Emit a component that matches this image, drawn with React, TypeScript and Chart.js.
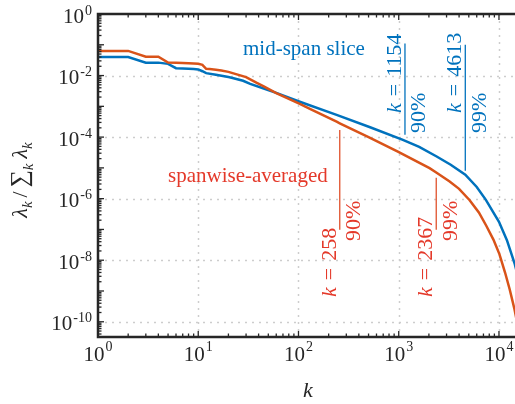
import React, { useEffect, useRef } from "react";
import { Chart, registerables } from "chart.js";

Chart.register(...registerables);

// ---------- data ----------
const kBlue = [1, 2, 3, 4, 5, 6, 7, 8, 9, 10, 11, 12, 15, 20, 22, 28, 33, 45, 60, 103, 240, 518, 1100, 1600, 2390, 3300, 4613, 6000, 7400, 10000, 12000, 14300, 16000];
const blueValues = [3.98e-2, 3.98e-2, 2.63e-2, 2.63e-2, 2.4e-2, 1.74e-2, 1.7e-2, 1.66e-2, 1.62e-2, 1.58e-2, 1.38e-2, 1.2e-2, 1.07e-2, 8.91e-3, 8.32e-3, 6.76e-3, 5.37e-3, 3.8e-3, 2.75e-3, 1.41e-3, 5.25e-4, 2.09e-4, 8.13e-5, 4.79e-5, 2.34e-5, 1.26e-5, 6.03e-6, 2.4e-6, 9.12e-7, 1.78e-7, 4.47e-8, 7.94e-9, 2.0e-9];

const kRed = [1, 2, 3, 4, 5, 6, 7, 8, 9, 10, 11, 12, 13, 15, 17, 20, 22, 30, 38, 45, 60, 103, 130, 240, 258, 500, 980, 2030, 2367, 3220, 4000, 5100, 6300, 7470, 8800, 10100, 11500, 12800, 14300, 16000];
const redValues = [6.31e-2, 6.31e-2, 4.07e-2, 4.07e-2, 2.63e-2, 2.6e-2, 2.57e-2, 2.51e-2, 2.45e-2, 2.4e-2, 2.24e-2, 1.66e-2, 1.62e-2, 1.55e-2, 1.45e-2, 1.32e-2, 1.2e-2, 8.91e-3, 5.89e-3, 4.47e-3, 2.69e-3, 1.2e-3, 8.32e-4, 3.16e-4, 2.82e-4, 1.0e-4, 3.39e-5, 9.77e-6, 7.08e-6, 3.63e-6, 2.09e-6, 8.91e-7, 3.55e-7, 1.32e-7, 4.68e-8, 1.58e-8, 3.98e-9, 1.12e-9, 2.51e-10, 3.98e-11];

const xTicks = [1, 10, 100, 1000, 10000];
const yTicks = [1, 1e-2, 1e-4, 1e-6, 1e-8, 1e-10];

// annotations: mode index k, percentage of energy, which series
const annoK = [1154, 4613, 258, 2367];
const annoPct = ["90%", "99%", "90%", "99%"];
const annoSeries = ["blue", "blue", "red", "red"];
const annoTop = [1.1e-1, 1.0e-1, 1.7e-4, 4.8e-6];
const annoBottom = [1.2e-4, 8.0e-6, 9.8e-8, 9.8e-8];

const seriesLabels = ["mid-span slice", "spanwise-averaged"];

// ---------- style ----------
const BLUE = "#0072BD";
const RED = "#D95319";
const BLUE_TEXT = "#0072BD";
const RED_TEXT = "#E4392A";
const AXIS = "#262626";
const GRID = "#cdcdcd";
const SERIF = '"Liberation Serif", "Times New Roman", Times, serif';
const f = (size: number, italic = false) => `${italic ? "italic " : ""}${size}px ${SERIF}`;

type Seg = { t: string; font: string; dy?: number; gap?: number };

function measureSegs(ctx: CanvasRenderingContext2D, segs: Seg[]) {
  let w = 0;
  for (const s of segs) {
    ctx.font = s.font;
    w += (s.gap || 0) + ctx.measureText(s.t).width;
  }
  return w;
}
function drawSegs(ctx: CanvasRenderingContext2D, segs: Seg[], x: number, y: number) {
  let cx = x;
  for (const s of segs) {
    cx += s.gap || 0;
    ctx.font = s.font;
    ctx.fillText(s.t, cx, y + (s.dy || 0));
    cx += ctx.measureText(s.t).width;
  }
}

const decorPlugin = {
  id: "decor",
  beforeDatasetsDraw(chart: any) {
    const { ctx, chartArea: a } = chart;
    const xs = chart.scales.x, ys = chart.scales.y;
    ctx.save();
    ctx.strokeStyle = GRID;
    ctx.lineWidth = 1.5;
    ctx.setLineDash([2, 5]);
    for (const v of xTicks) {
      const px = Math.round(xs.getPixelForValue(v)) + 0.5;
      if (px < a.left + 2) continue;
      ctx.beginPath();
      ctx.moveTo(px, a.top);
      ctx.lineTo(px, a.bottom);
      ctx.stroke();
    }
    for (const v of yTicks) {
      const py = Math.round(ys.getPixelForValue(v)) + 0.5;
      if (py < a.top + 2) continue;
      ctx.beginPath();
      ctx.moveTo(a.left, py);
      ctx.lineTo(a.right, py);
      ctx.stroke();
    }
    ctx.restore();
  },
  afterDatasetsDraw(chart: any) {
    const { ctx, chartArea: a } = chart;
    const xs = chart.scales.x, ys = chart.scales.y;
    ctx.save();
    ctx.textAlign = "left";
    ctx.textBaseline = "alphabetic";

    // annotation lines + rotated labels
    annoK.forEach((k, i) => {
      const blue = annoSeries[i] === "blue";
      const px = xs.getPixelForValue(k);
      ctx.strokeStyle = blue ? BLUE : "#E0522C";
      ctx.lineWidth = 1.3;
      ctx.beginPath();
      ctx.moveTo(px, ys.getPixelForValue(annoTop[i]));
      ctx.lineTo(px, ys.getPixelForValue(annoBottom[i]));
      ctx.stroke();
      ctx.fillStyle = blue ? BLUE_TEXT : RED_TEXT;
      const numStart = blue ? 113 : 297;
      const denStart = blue ? 133 : 241;
      ctx.save();
      ctx.translate(px - 4.2, numStart);
      ctx.rotate(-Math.PI / 2);
      drawSegs(ctx, [
        { t: "k", font: f(22, true) },
        { t: "=", font: f(22), gap: 7 },
        { t: String(k), font: f(22), gap: 7 },
      ], 0, 0);
      ctx.restore();
      ctx.save();
      ctx.translate(px + 20.3, denStart);
      ctx.rotate(-Math.PI / 2);
      drawSegs(ctx, [{ t: annoPct[i], font: f(22) }], 0, 0);
      ctx.restore();
    });

    // series labels
    ctx.font = f(21);
    ctx.fillStyle = BLUE_TEXT;
    ctx.fillText(seriesLabels[0], 243, 55);
    ctx.fillStyle = RED_TEXT;
    ctx.fillText(seriesLabels[1], 168, 182);

    // axes box
    ctx.strokeStyle = AXIS;
    ctx.lineWidth = 2.5;
    ctx.beginPath();
    ctx.moveTo(a.right + 2, a.top);
    ctx.lineTo(a.left, a.top);
    ctx.lineTo(a.left, a.bottom);
    ctx.lineTo(a.right + 2, a.bottom);
    ctx.stroke();

    // ticks (inward)
    ctx.lineWidth = 1.3;
    const xMin = xs.min, xMax = xs.max, yMin = ys.min, yMax = ys.max;
    for (let d = 0; d <= 5; d++) {
      for (let m = 1; m <= 9; m++) {
        const v = m * Math.pow(10, d);
        if (v < xMin || v > xMax) continue;
        const px = xs.getPixelForValue(v);
        const len = m === 1 ? 6 : 3.5;
        ctx.beginPath();
        ctx.moveTo(px, a.bottom);
        ctx.lineTo(px, a.bottom - len);
        ctx.moveTo(px, a.top);
        ctx.lineTo(px, a.top + len);
        ctx.stroke();
      }
    }
    for (let d = -11; d <= 0; d++) {
      for (let m = 1; m <= 9; m++) {
        const v = m * Math.pow(10, d);
        if (v < yMin || v > yMax) continue;
        const py = ys.getPixelForValue(v);
        const len = m === 1 ? 6 : 3.5;
        ctx.beginPath();
        ctx.moveTo(a.left, py);
        ctx.lineTo(a.left + len, py);
        ctx.stroke();
      }
    }

    // tick labels
    ctx.fillStyle = AXIS;
    for (const v of yTicks) {
      const e = String(Math.round(Math.log10(v)));
      const py = ys.getPixelForValue(v);
      const segs: Seg[] = [
        { t: "10", font: f(21), dy: 8.5 },
        { t: e, font: f(14), dy: 0.5, gap: 1 },
      ];
      const w = measureSegs(ctx, segs);
      drawSegs(ctx, segs, 92 - w, py);
    }
    for (const v of xTicks) {
      const e = String(Math.round(Math.log10(v)));
      const px = xs.getPixelForValue(v);
      const segs: Seg[] = [
        { t: "10", font: f(21), dy: 0 },
        { t: e, font: f(14), dy: -10, gap: 1 },
      ];
      const w = measureSegs(ctx, segs);
      drawSegs(ctx, segs, px - w / 2, 361);
    }

    // axis titles
    ctx.font = f(22, true);
    const kw = ctx.measureText("k").width;
    ctx.fillText("k", 308 - kw / 2, 397);

    const ySegs: Seg[] = [
      { t: "λ", font: f(22, true) },
      { t: "k", font: f(15, true), dy: 5 },
      { t: "/", font: f(22), gap: 4 },
      { t: "∑", font: f(24), gap: 4 },
      { t: "k", font: f(15, true), dy: 6 },
      { t: "λ", font: f(22, true), gap: 5 },
      { t: "k", font: f(15, true), dy: 5 },
    ];
    const yw = measureSegs(ctx, ySegs);
    ctx.save();
    ctx.translate(27, 180);
    ctx.rotate(-Math.PI / 2);
    drawSegs(ctx, ySegs, -yw / 2, 0);
    ctx.restore();

    ctx.restore();
  },
};

export default function App() {
  const ref = useRef<HTMLCanvasElement | null>(null);
  useEffect(() => {
    if (!ref.current) return;
    const chart = new Chart(ref.current, {
      type: "line",
      data: {
        datasets: [
          {
            label: seriesLabels[1],
            data: kRed.map((k, i) => ({ x: k, y: redValues[i] })),
            borderColor: RED,
            borderWidth: 2.5,
            pointRadius: 0,
            tension: 0,
            fill: false,
          },
          {
            label: seriesLabels[0],
            data: kBlue.map((k, i) => ({ x: k, y: blueValues[i] })),
            borderColor: BLUE,
            borderWidth: 2.5,
            pointRadius: 0,
            tension: 0,
            fill: false,
          },
        ],
      },
      options: {
        animation: false,
        responsive: false,
        devicePixelRatio: 1,
        layout: { padding: { left: 98, top: 14, right: 0, bottom: 67 } },
        plugins: { legend: { display: false }, tooltip: { enabled: false } },
        events: [],
        scales: {
          x: { type: "logarithmic", min: 1, max: 14450, display: false },
          y: { type: "logarithmic", min: 3.2e-11, max: 1, display: false },
        },
      },
      plugins: [decorPlugin],
    });
    return () => chart.destroy();
  }, []);
  return (
    <div style={{ position: "absolute", left: 0, top: 0, width: 515, height: 404, background: "#fff" }}>
      <canvas ref={ref} width={515} height={404} style={{ width: 515, height: 404 }} />
    </div>
  );
}
